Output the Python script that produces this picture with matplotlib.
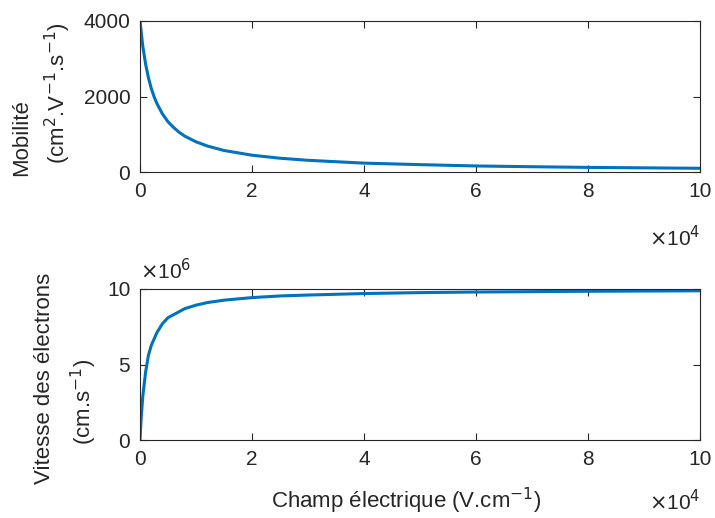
import matplotlib
matplotlib.use("Agg")
import matplotlib.pyplot as plt

plt.rcParams['font.family'] = ['Liberation Sans', 'DejaVu Sans']

# champ electrique (x 1e4 V/cm) et mobilite
champ_mob = [0, 0.05, 0.1, 0.15, 0.2, 0.25, 0.3, 0.4, 0.5, 0.6, 0.7, 0.8,
             1.0, 1.2, 1.5, 2, 2.5, 3, 4, 5, 6, 7, 8, 9, 10]
mobilite = [4000, 3330, 2860, 2500, 2220, 2000, 1820, 1540, 1330, 1180, 1050, 950,
            800, 690, 570, 445, 365, 310, 235, 195, 160, 140, 122, 110, 98]

# vitesse des electrons (x 1e6 cm/s)
champ_vit = [0, 0.02, 0.05, 0.1, 0.15, 0.2, 0.3, 0.4, 0.5, 0.6, 0.8, 1.0,
             1.2, 1.5, 2, 2.5, 3, 4, 5, 6, 8, 10]
vitesse = [0, 1.4, 2.9, 4.5, 5.6, 6.25, 7.1, 7.7, 8.1, 8.3, 8.7, 8.93,
           9.1, 9.26, 9.43, 9.54, 9.6, 9.7, 9.76, 9.8, 9.85, 9.88]

x_ticks = [0, 2, 4, 6, 8, 10]

W, H = 715, 518
axcol = '#262626'
blue = '#0072BD'
tick_fs = 15
lab_fs = 16

fig = plt.figure(figsize=(W / 100, H / 100), dpi=100)

def px_axes(left, top, right, bottom):
    return fig.add_axes([left / W, 1 - bottom / H, (right - left) / W, (bottom - top) / H])

def style(ax):
    for s in ax.spines.values():
        s.set_color(axcol)
        s.set_linewidth(0.8)
    ax.tick_params(direction='in', length=5, width=0.8, colors=axcol,
                   labelsize=tick_fs, top=True, right=True, pad=7)
    ax.set_xlim(0, 10)
    ax.set_xticks(x_ticks)
    ax.set_xticklabels([str(t) for t in x_ticks])

ax1 = px_axes(140, 21, 700, 172)
ax1.plot(champ_mob, mobilite, color=blue, lw=2.2)
style(ax1)
ax1.set_ylim(0, 4000)
ax1.set_yticks([0, 2000, 4000])

ax2 = px_axes(140, 289, 700, 440)
ax2.plot(champ_vit, vitesse, color=blue, lw=2.2)
style(ax2)
ax2.set_ylim(0, 10)
ax2.set_yticks([0, 5, 10])

def ftext(x, y, s, **kw):
    fig.text(x / W, 1 - y / H, s, color=axcol, **kw)

# labels de l'axe y, chaque ligne placee a part
ftext(22, 138, 'Mobilité', rotation=90, ha='center', va='center', fontsize=lab_fs)
ftext(58, 93, '(cm$^{2}$.V$^{-1}$.s$^{-1}$)', rotation=90, ha='center', va='center', fontsize=lab_fs)
ftext(45, 378, 'Vitesse des électrons', rotation=90, ha='center', va='center', fontsize=lab_fs)
ftext(84, 402, '(cm.s$^{-1}$)', rotation=90, ha='center', va='center', fontsize=lab_fs)

ftext(406, 501, 'Champ électrique (V.cm$^{-1}$)', ha='center', va='center', fontsize=lab_fs)

# facteurs d'echelle
ftext(700, 238, r'$\times$10$^{4}$', ha='right', va='center', fontsize=tick_fs)
ftext(700, 502, r'$\times$10$^{4}$', ha='right', va='center', fontsize=tick_fs)
ftext(140, 271, r'$\times$10$^{6}$', ha='left', va='center', fontsize=tick_fs)

fig.savefig('out.png', dpi=100)
